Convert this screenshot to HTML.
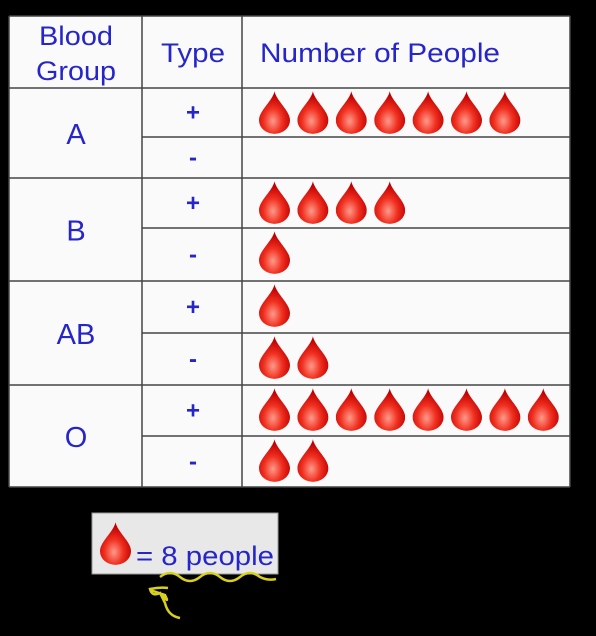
<!DOCTYPE html>
<html><head><meta charset="utf-8"><style>
body{margin:0;background:#000;width:596px;height:636px;overflow:hidden}
svg{display:block}
text{font-family:"Liberation Sans",sans-serif;fill:#2626c8}
</style></head><body>
<svg width="596" height="636">
<defs>
<radialGradient id="dg" cx="0.45" cy="0.7" r="0.6">
<stop offset="0" stop-color="#ff9a8a"/><stop offset="0.5" stop-color="#f03020"/><stop offset="1" stop-color="#c00000"/>
</radialGradient>
<symbol id="drop" viewBox="0 0 32 44"><path d="M16 0 C18 10 32 20 32 30 A16 14 0 0 1 0 30 C0 20 14 10 16 0Z" fill="url(#dg)"/></symbol>
</defs>
<rect x="9" y="16" width="561" height="471" fill="#fafafa"/>
<g id="grid" stroke="#444" stroke-width="1.5" fill="none"></g>
<g id="labels">
<text x="76" y="45" font-size="27" text-anchor="middle" textLength="74" lengthAdjust="spacingAndGlyphs">Blood</text>
<text x="76" y="80" font-size="27" text-anchor="middle" textLength="80" lengthAdjust="spacingAndGlyphs">Group</text>
<text x="193" y="62" font-size="27" text-anchor="middle" textLength="64" lengthAdjust="spacingAndGlyphs">Type</text>
<text x="260" y="62" font-size="27" textLength="240" lengthAdjust="spacingAndGlyphs">Number of People</text>
</g>
<g id="drops"></g>
<g>
<rect x="92" y="513" width="186" height="61" fill="#e8e8e8" stroke="#999"/>
<use href="#drop" x="100" y="520" width="31" height="47"/>
<text x="136" y="565" font-size="27" textLength="138" lengthAdjust="spacingAndGlyphs">= 8 people</text>
</g>
<path d="M160 577 q10 -8 20 0 q10 8 20 0 q10 -8 20 0 q10 8 20 0 q10 -8 20 0 q8 4 16 2" stroke="#d8d020" stroke-width="2.5" fill="none"/>
<path d="M180 618 q-12 -2 -15 -15 l-5 -10 q-8 4 -10 -4 q10 -2 18 -1 M150 590 l15 5 q5 10 -3 0" stroke="#d8d020" stroke-width="2.5" fill="none"/>
</svg>
<script>
const groups=["A","B","AB","O"];
const types=["+","-"];
const counts=[7,0,4,1,1,2,8,2];
const NS="http://www.w3.org/2000/svg";
const rowTop=[88,137,178,228,281,333,385,436,487];
const grid=document.getElementById('grid');
function line(x1,y1,x2,y2){const l=document.createElementNS(NS,'line');l.setAttribute('x1',x1);l.setAttribute('y1',y1);l.setAttribute('x2',x2);l.setAttribute('y2',y2);grid.appendChild(l);}
line(9,16,570,16);line(9,487,570,487);line(9,16,9,487);line(570,16,570,487);
line(142,16,142,487);line(242,16,242,487);
for(let i=0;i<rowTop.length-1;i++){line(i%2===0?9:142,rowTop[i],570,rowTop[i]);}
const lab=document.getElementById('labels');
const dg=document.getElementById('drops');
groups.forEach((g,gi)=>{
  const t=document.createElementNS(NS,'text');
  t.setAttribute('x',76);t.setAttribute('y',(rowTop[gi*2]+rowTop[gi*2+2])/2+11);
  t.setAttribute('font-size','29');t.setAttribute('text-anchor','middle');t.textContent=g;
  
  
  lab.appendChild(t);
});
counts.forEach((c,ri)=>{
  const t=document.createElementNS(NS,'text');
  t.setAttribute('x',193);t.setAttribute('y',(rowTop[ri]+rowTop[ri+1])/2+8);
  t.setAttribute('font-size','24');t.setAttribute('font-weight','bold');t.setAttribute('text-anchor','middle');t.textContent=types[ri%2];
  
  
  lab.appendChild(t);
  for(let k=0;k<c;k++){
    const u=document.createElementNS(NS,'use');
    u.setAttribute('href','#drop');
    u.setAttribute('x',259+k*38.4);u.setAttribute('y',rowTop[ri]+2);
    u.setAttribute('width',31);u.setAttribute('height',45);
    
    
    dg.appendChild(u);
  }
});
</script>
</body></html>
